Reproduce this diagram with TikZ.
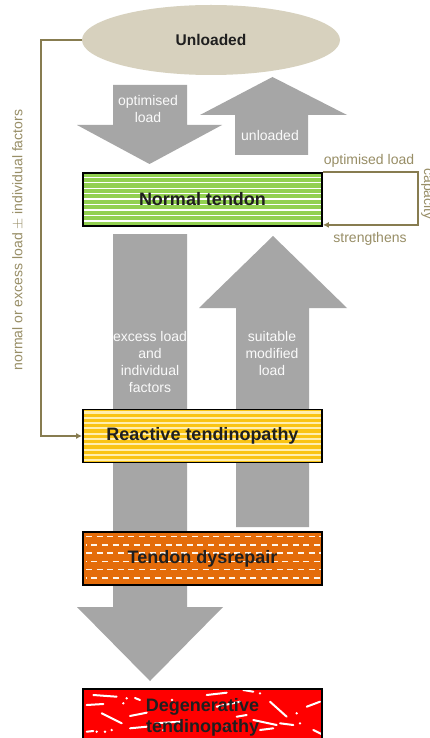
\documentclass[tikz,border=0pt]{standalone}
\usepackage{fontspec}
\setmainfont{Liberation Sans}
\usetikzlibrary{shapes.geometric,arrows.meta}
\definecolor{beige}{RGB}{215,209,190}
\definecolor{fbline}{RGB}{135,124,80}
\definecolor{fbtext}{RGB}{152,142,102}
\definecolor{arrowgray}{RGB}{166,166,166}
\definecolor{tgreen}{RGB}{146,208,80}
\definecolor{tyellow}{RGB}{250,196,20}
\definecolor{tpale}{RGB}{255,238,175}
\definecolor{torange}{RGB}{228,108,10}
\definecolor{tred}{RGB}{255,0,0}
\pgfdeclarelayer{back}
\pgfdeclarelayer{pat}
\pgfsetlayers{back,pat,main}
\begin{document}
\begin{tikzpicture}[x=1pt,y=-1pt,
  tbox/.style={draw=black, line width=1.8pt, minimum width=239pt, minimum height=53pt,
    inner sep=0pt, font=\fontsize{18}{21}\selectfont\bfseries, text=black!88, align=center},
  fb/.style={draw=fbline, line width=2pt},
  fbtip/.style={-{Latex[length=6pt,width=6pt]}},
  fblab/.style={text=fbtext, font=\fontsize{14}{17}\selectfont, inner sep=0pt},
  arrlab/.style={text=white!96!gray, font=\fontsize{14}{17}\selectfont, align=center, inner sep=0pt},
  bigarrow/.style={fill=arrowgray},
  whitestroke/.style={white, line width=2pt, line cap=round}
]
\useasboundingbox (0,0) rectangle (430,738);

% ---------- nodes ----------
\node[ellipse, fill=beige, minimum width=258pt, minimum height=70pt, inner sep=0pt,
  font=\fontsize{15.5}{18}\selectfont\bfseries, text=black!88] (unl) at (211,40) {Unloaded};
\node[tbox] (norm) at (202.5,199.5) {Normal tendon};
\node[tbox] (react) at (202.5,436) {Reactive tendinopathy};
\node[tbox] (dys) at (202.5,558.5) {Tendon dysrepair};
\node[tbox, minimum height=57pt] (deg) at (202.5,717.5) {Degenerative\\tendinopathy};

% ---------- background and grey block arrows ----------
\begin{pgfonlayer}{back}
\fill[white] (0,0) rectangle (430,738);
\path[bigarrow] (113,85) -- (187,85) -- (187,125) -- (222,125) -- (149.5,164) -- (77,125) -- (113,125) -- cycle;
\path[bigarrow] (235,155) -- (308,155) -- (308,115) -- (347,115) -- (272.5,77) -- (200,115) -- (235,115) -- cycle;
\path[bigarrow] (113,234) -- (187,234) -- (187,607) -- (223,607) -- (150,681) -- (77,607) -- (113,607) -- cycle;
\path[bigarrow] (236,527) -- (309,527) -- (309,308) -- (347,308) -- (273,236) -- (199,308) -- (236,308) -- cycle;
\end{pgfonlayer}

% ---------- box fills and patterns ----------
\begin{pgfonlayer}{pat}
\fill[tgreen] (norm.north west) rectangle (norm.south east);
\begin{scope}
  \clip (norm.north west) rectangle (norm.south east);
  \foreach \k in {0,...,8} \draw[white, line width=1.3pt] (80,177.3+5.45*\k) -- (325,177.3+5.45*\k);
\end{scope}
\fill[tyellow] (react.north west) rectangle (react.south east);
\begin{scope}
  \clip (react.north west) rectangle (react.south east);
  \foreach \k in {0,...,9} \draw[tpale, line width=2.1pt] (80,412.5+5.3*\k) -- (325,412.5+5.3*\k);
\end{scope}
\fill[torange] (dys.north west) rectangle (dys.south east);
\begin{scope}
  \clip (dys.north west) rectangle (dys.south east);
  \foreach \k in {0,...,5} {
    \pgfmathsetmacro{\ph}{mod(\k,2)*5.3}
    \draw[white!92!orange, line width=1.4pt, dash pattern=on 6pt off 4.6pt, dash phase=\ph pt]
      (86,536.5+8.3*\k) -- (322,536.5+8.3*\k);
  }
\end{scope}
\fill[tred] (deg.north west) rectangle (deg.south east);
\begin{scope}
  \clip (deg.north west) rectangle (deg.south east);
  \draw[whitestroke] (93.3,695) -- (116.7,696.7);
  \draw[whitestroke] (86.7,705) -- (103.3,704);
  \draw[whitestroke] (101.7,713.3) -- (121.7,723.3);
  \draw[whitestroke] (135,698) -- (140,700);
  \draw[whitestroke] (130,716) -- (146.7,712.7);
  \draw[whitestroke] (86.7,731.7) -- (93.3,731);
  \draw[whitestroke] (130,728.3) -- (146.7,726.7);
  \draw[whitestroke] (155,723.3) -- (180,721.7);
  \draw[whitestroke] (206.7,695) -- (226.7,692.7);
  \draw[whitestroke] (216.7,706.7) -- (240,701.7);
  \draw[whitestroke] (243.3,690) -- (253.3,691.7);
  \draw[whitestroke] (236.7,716.7) -- (246.7,715);
  \draw[whitestroke] (253.3,720) -- (276.7,725);
  \draw[whitestroke] (270,701.7) -- (286.7,716.7);
  \draw[whitestroke] (280,723.3) -- (293.3,725);
  \draw[whitestroke] (306.7,706.7) -- (320,701.7);
  \draw[whitestroke] (313.3,730) -- (323.3,735);
  \draw[whitestroke] (260,730) -- (273.3,728.3);
  \foreach \p in {(123.3,703.3),(126.7,698.3),(111.7,730),(105,731.7),(96.7,731.7),
                  (260,693.3),(296.7,713.3),(300,723.3),(163.3,730),(172,700),(226,727)}
    \fill[white] \p circle (1.3pt);
\end{scope}
\end{pgfonlayer}

% ---------- labels in the grey arrows ----------
\node[arrlab] (l1) at (148,109) {optimised\\load};
\node[arrlab] (l2) at (270,135) {unloaded};
\node[arrlab] (l3) at (150,362) {excess load\\and\\individual\\factors};
\node[arrlab] (l4) at (272,353.5) {suitable\\modified\\load};

% ---------- feedback connectors ----------
\coordinate (lc) at (41,0);
\draw[fb, fbtip] (unl.west) -| (lc |- react.west) -- (react.west);
\coordinate (rc) at (418,0);
\coordinate (nin) at ([yshift=2pt]norm.south east);
\draw[fb, fbtip] (norm.north east) -| (rc |- nin) -- (nin);

\node[fblab] (t1) at (369,161) {optimised load};
\node[fblab] (t2) at (370,239) {strengthens};
\node[fblab, rotate=-90, anchor=base] (t3) at (424,194) {capacity};
\node[fblab, rotate=90] (t4) at (18,240) {normal or excess load $\pm$ individual factors};
\end{tikzpicture}
\end{document}
